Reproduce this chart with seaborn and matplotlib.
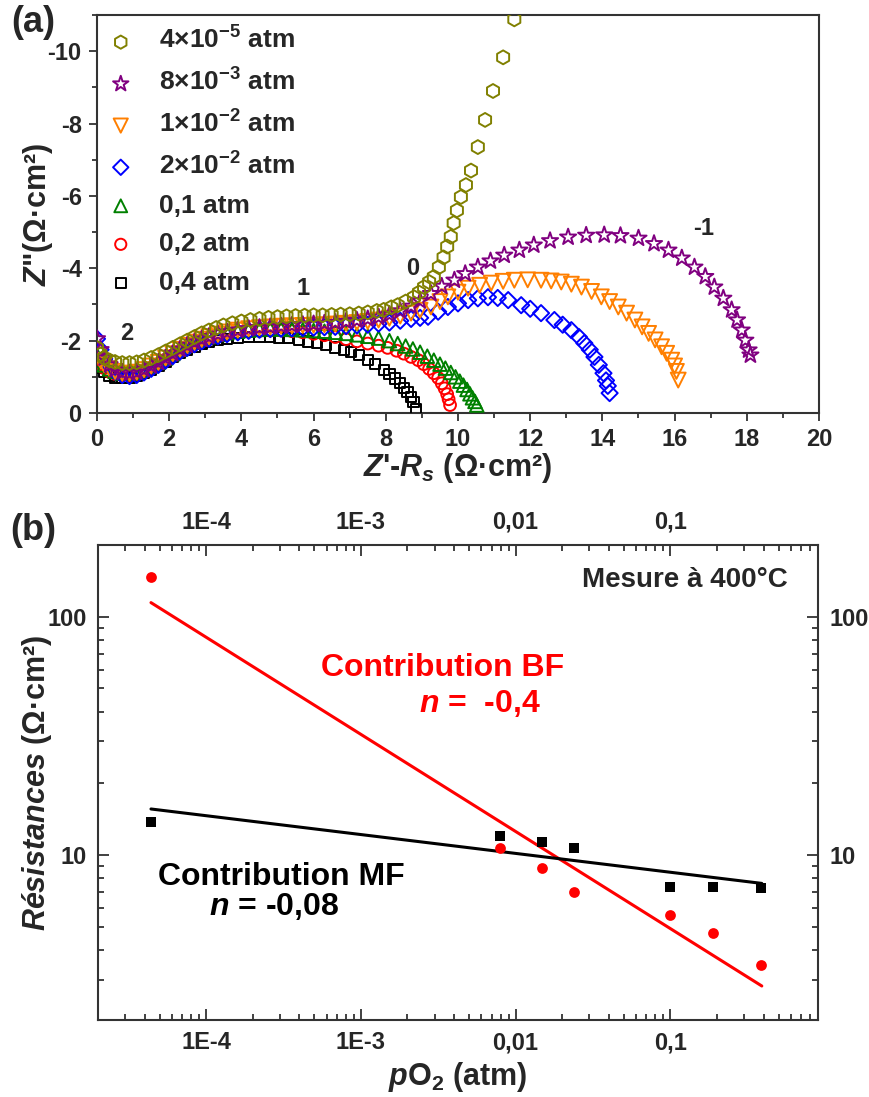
import numpy as np
import pandas as pd
import matplotlib
matplotlib.use("Agg")
import matplotlib.pyplot as plt
import matplotlib.ticker as mticker
import seaborn as sns

# ---------------- data : panel (a) Nyquist plots (Z' - Rs, -Z'') ----------------
labels_a = ["4×10$^{-5}$ atm", "8×10$^{-3}$ atm", "1×10$^{-2}$ atm", "2×10$^{-2}$ atm",
            "0,1 atm", "0,2 atm", "0,4 atm"]
colors_a = ["#808000", "#800080", "#FF7F00", "#0000FF", "#008000", "#FF0000", "#000000"]
markers_a = ["h", "*", "v", "D", "^", "o", "s"]
sizes_a = [100, 150, 115, 68, 95, 72, 55]

x_4e5 = [0, 0.1, 0.2, 0.35, 0.5, 0.7, 0.9, 1.1, 1.3, 1.5, 1.7, 1.9, 2.1, 2.3, 2.5, 2.7, 2.9,
         3.1, 3.3, 3.5, 3.75, 4.0, 4.25, 4.5, 4.75, 5.0, 5.25, 5.5, 5.75, 6.0, 6.25, 6.5, 6.75,
         7.0, 7.25, 7.5, 7.75, 7.94, 8.15, 8.33, 8.55, 8.78, 8.92, 9.06, 9.2, 9.33, 9.47, 9.6,
         9.7, 9.8, 9.88, 9.97, 10.08, 10.22, 10.36, 10.55, 10.75, 10.97, 11.25, 11.56]
y_4e5 = [1.8, 1.62, 1.52, 1.45, 1.41, 1.38, 1.38, 1.4, 1.45, 1.52, 1.6, 1.7, 1.8, 1.9, 2.0,
         2.1, 2.2, 2.28, 2.35, 2.42, 2.48, 2.53, 2.57, 2.6, 2.63, 2.65, 2.67, 2.68, 2.69, 2.7,
         2.7, 2.71, 2.72, 2.73, 2.75, 2.78, 2.82, 2.85, 2.92, 2.98, 3.08, 3.2, 3.33, 3.48, 3.62,
         3.76, 4.03, 4.3, 4.6, 4.87, 5.25, 5.6, 5.97, 6.3, 6.7, 7.35, 8.1, 8.9, 9.83, 10.88]

x_8e3 = [0, 0.1, 0.2, 0.35, 0.5, 0.7, 0.9, 1.1, 1.3, 1.5, 1.7, 1.9, 2.1, 2.3, 2.5, 2.7, 2.9,
         3.1, 3.35, 3.6, 3.9, 4.2, 4.5, 4.8, 5.1, 5.4, 5.7, 6.0, 6.3, 6.6, 6.9, 7.2, 7.5, 7.8,
         8.1, 8.4, 8.7, 8.95, 9.25, 9.55, 9.9, 10.2, 10.55, 10.9, 11.28, 11.7, 12.1, 12.55,
         13.05, 13.55, 14.05, 14.5, 15.0, 15.43, 15.83, 16.2, 16.55, 16.85, 17.1, 17.35, 17.58,
         17.73, 17.86, 17.96, 18.05, 18.1]
y_8e3 = [2.05, 1.75, 1.52, 1.33, 1.2, 1.12, 1.1, 1.13, 1.2, 1.3, 1.4, 1.52, 1.64, 1.76, 1.87,
         1.96, 2.04, 2.11, 2.18, 2.24, 2.29, 2.33, 2.36, 2.38, 2.4, 2.42, 2.44, 2.46, 2.48, 2.5,
         2.53, 2.56, 2.6, 2.65, 2.72, 2.82, 2.95, 3.1, 3.3, 3.5, 3.67, 3.85, 4.03, 4.2, 4.36,
         4.5, 4.64, 4.76, 4.86, 4.91, 4.92, 4.9, 4.83, 4.68, 4.5, 4.28, 4.03, 3.77, 3.48, 3.17,
         2.85, 2.57, 2.29, 2.01, 1.74, 1.6]

x_1e2 = [0, 0.1, 0.2, 0.35, 0.5, 0.7, 0.9, 1.1, 1.3, 1.5, 1.7, 1.9, 2.1, 2.3, 2.5, 2.7, 2.9,
         3.1, 3.35, 3.6, 3.9, 4.2, 4.5, 4.8, 5.1, 5.4, 5.7, 6.0, 6.3, 6.6, 6.9, 7.2, 7.5, 7.8,
         8.1, 8.4, 8.7, 8.95, 9.25, 9.5, 9.72, 10.0, 10.28, 10.6, 10.92, 11.25, 11.56, 11.93,
         12.3, 12.58, 12.86, 13.14, 13.42, 13.7, 13.97, 14.2, 14.44, 14.67, 14.9, 15.1, 15.28,
         15.46, 15.64, 15.78, 15.92, 16.0, 16.05, 16.1]
y_1e2 = [1.6, 1.45, 1.33, 1.22, 1.15, 1.1, 1.1, 1.13, 1.2, 1.3, 1.4, 1.52, 1.64, 1.76, 1.87,
         1.96, 2.04, 2.11, 2.18, 2.24, 2.29, 2.33, 2.36, 2.38, 2.4, 2.41, 2.42, 2.43, 2.44, 2.46,
         2.48, 2.5, 2.53, 2.57, 2.62, 2.68, 2.76, 2.84, 2.93, 3.08, 3.21, 3.34, 3.45, 3.53, 3.59,
         3.64, 3.67, 3.68, 3.67, 3.65, 3.62, 3.56, 3.48, 3.36, 3.21, 3.08, 2.93, 2.76, 2.57,
         2.38, 2.2, 2.02, 1.83, 1.65, 1.46, 1.3, 1.15, 0.91]

x_2e2 = [0, 0.1, 0.2, 0.35, 0.5, 0.7, 0.9, 1.1, 1.3, 1.5, 1.7, 1.9, 2.1, 2.3, 2.5, 2.7, 2.9,
         3.1, 3.35, 3.6, 3.9, 4.2, 4.5, 4.8, 5.1, 5.4, 5.7, 6.0, 6.3, 6.6, 6.9, 7.2, 7.5, 7.8,
         8.1, 8.4, 8.7, 8.95, 9.17, 9.45, 9.72, 10.0, 10.28, 10.55, 10.83, 11.1, 11.39, 11.75,
         12.0, 12.3, 12.67, 12.9, 13.14, 13.35, 13.5, 13.65, 13.78, 13.9, 14.03, 14.1, 14.15,
         14.2]
y_2e2 = [2.05, 1.75, 1.5, 1.3, 1.15, 1.05, 1.02, 1.05, 1.12, 1.22, 1.33, 1.45, 1.57, 1.7, 1.8,
         1.9, 1.98, 2.05, 2.12, 2.18, 2.23, 2.27, 2.3, 2.32, 2.33, 2.34, 2.35, 2.36, 2.37, 2.38,
         2.4, 2.42, 2.44, 2.47, 2.5, 2.55, 2.6, 2.63, 2.66, 2.8, 2.93, 3.03, 3.12, 3.17, 3.2,
         3.18, 3.12, 2.98, 2.88, 2.76, 2.57, 2.44, 2.29, 2.1, 1.93, 1.75, 1.55, 1.33, 1.1, 0.9,
         0.75, 0.55]

x_01 = [0, 0.1, 0.2, 0.35, 0.5, 0.7, 0.9, 1.1, 1.3, 1.5, 1.7, 1.9, 2.1, 2.3, 2.5, 2.7, 2.9,
        3.1, 3.35, 3.6, 3.9, 4.2, 4.5, 4.8, 5.1, 5.4, 5.7, 6.0, 6.3, 6.6, 6.9, 7.2, 7.5, 7.8,
        8.1, 8.33, 8.55, 8.75, 8.95, 9.15, 9.33, 9.5, 9.65, 9.8, 9.93, 10.05, 10.15, 10.25,
        10.33, 10.4, 10.47, 10.52]
y_01 = [1.6, 1.45, 1.33, 1.22, 1.15, 1.1, 1.1, 1.13, 1.2, 1.3, 1.4, 1.52, 1.64, 1.76, 1.87,
        1.96, 2.04, 2.11, 2.17, 2.22, 2.26, 2.29, 2.31, 2.32, 2.32, 2.31, 2.3, 2.28, 2.26, 2.23,
        2.2, 2.16, 2.12, 2.07, 2.0, 1.92, 1.85, 1.77, 1.68, 1.57, 1.46, 1.35, 1.24, 1.12, 1.0,
        0.88, 0.77, 0.65, 0.53, 0.42, 0.32, 0.22]

x_02 = [0, 0.1, 0.2, 0.35, 0.5, 0.7, 0.9, 1.1, 1.3, 1.5, 1.7, 1.9, 2.1, 2.3, 2.5, 2.7, 2.9,
        3.1, 3.35, 3.6, 3.9, 4.2, 4.5, 4.8, 5.1, 5.4, 5.7, 6.0, 6.3, 6.6, 6.9, 7.2, 7.5, 7.8,
        8.05, 8.3, 8.5, 8.7, 8.9, 9.05, 9.2, 9.33, 9.45, 9.55, 9.63, 9.7, 9.74, 9.78]
y_02 = [1.5, 1.35, 1.24, 1.14, 1.08, 1.04, 1.04, 1.08, 1.15, 1.25, 1.36, 1.48, 1.6, 1.72,
        1.83, 1.92, 2.0, 2.07, 2.13, 2.18, 2.22, 2.25, 2.27, 2.28, 2.28, 2.26, 2.23, 2.19, 2.15,
        2.1, 2.04, 1.98, 1.92, 1.86, 1.8, 1.72, 1.64, 1.55, 1.46, 1.35, 1.22, 1.1, 0.97, 0.82,
        0.68, 0.52, 0.38, 0.22]

x_04 = [0, 0.1, 0.2, 0.35, 0.5, 0.7, 0.9, 1.1, 1.3, 1.5, 1.7, 1.9, 2.1, 2.3, 2.5, 2.7, 2.9,
        3.1, 3.35, 3.6, 3.9, 4.2, 4.5, 4.8, 5.05, 5.3, 5.6, 5.85, 6.1, 6.35, 6.6, 6.85, 7.03,
        7.25, 7.5, 7.7, 7.95, 8.1, 8.25, 8.4, 8.5, 8.6, 8.7, 8.77, 8.83]
y_04 = [1.4, 1.25, 1.13, 1.03, 0.98, 0.96, 0.98, 1.03, 1.1, 1.2, 1.3, 1.42, 1.54, 1.65, 1.75,
        1.83, 1.9, 1.96, 2.01, 2.05, 2.08, 2.1, 2.1, 2.1, 2.09, 2.07, 2.03, 1.98, 1.93, 1.87,
        1.81, 1.74, 1.69, 1.6, 1.46, 1.35, 1.19, 1.07, 0.95, 0.83, 0.7, 0.58, 0.44, 0.3, 0.12]

xs_a = [x_4e5, x_8e3, x_1e2, x_2e2, x_01, x_02, x_04]
ys_a = [y_4e5, y_8e3, y_1e2, y_2e2, y_01, y_02, y_04]

peak_labels = ["2", "1", "0", "-1"]
peak_x = [0.83, 5.7, 8.75, 16.8]
peak_y = [2.2, 3.45, 4.0, 5.1]

# ---------------- data : panel (b) resistances vs pO2 ----------------
po2 = [4.4e-5, 7.9e-3, 1.47e-2, 2.37e-2, 0.1, 0.19, 0.385]
r_mf = [13.8, 12.0, 11.3, 10.7, 7.35, 7.35, 7.3]
r_bf = [147, 10.7, 8.8, 7.0, 5.6, 4.7, 3.45]
fit_x = [4.4e-5, 0.39]
fit_mf = [15.6, 7.6]
fit_bf = [114.6, 2.82]
xtick_vals_b = [1e-4, 1e-3, 1e-2, 1e-1]
xtick_labels_b = ["1E-4", "1E-3", "0,01", "0,1"]
ytick_vals_b = [10, 100]
ytick_labels_b = ["10", "100"]

# ---------------- style ----------------
sns.set_style("ticks")
plt.rcParams["font.family"] = ["Liberation Sans", "DejaVu Sans"]
plt.rcParams["font.weight"] = "bold"
plt.rcParams["axes.unicode_minus"] = False
plt.rcParams["mathtext.fontset"] = "custom"
plt.rcParams["mathtext.rm"] = "Liberation Sans:bold"
plt.rcParams["mathtext.bf"] = "Liberation Sans:bold"
plt.rcParams["mathtext.it"] = "Liberation Sans:italic:bold"
plt.rcParams["mathtext.sf"] = "Liberation Sans:bold"

W, H = 870, 1097
fig = plt.figure(figsize=(W / 100, H / 100), dpi=100)
ax1 = fig.add_axes([97 / W, 1 - 413 / H, 722 / W, 398 / H])
ax2 = fig.add_axes([98 / W, 1 - 1020 / H, 720 / W, 475 / H])

spine_col = "#333333"
TICK_FS = 17

# ---------------- panel (a) ----------------
order = [6, 5, 4, 3, 2, 1, 0]
for i in order:
    df = pd.DataFrame({"x": xs_a[i], "y": [-v for v in ys_a[i]]})
    sns.scatterplot(data=df, x="x", y="y", ax=ax1, marker=markers_a[i], s=sizes_a[i],
                    facecolor="none", edgecolor=colors_a[i], linewidth=1.4,
                    label=labels_a[i], zorder=3 + (6 - i))

ax1.set_xlim(0, 20)
ax1.set_ylim(0, -11)
ax1.set_xticks(np.arange(0, 21, 2))
ax1.set_yticks([0, -2, -4, -6, -8, -10])
ax1.xaxis.set_minor_locator(mticker.MultipleLocator(1))
ax1.yaxis.set_minor_locator(mticker.MultipleLocator(1))
ax1.tick_params(which="both", direction="out", top=False, right=False,
                labelsize=TICK_FS, color=spine_col, width=1.3, pad=5)
ax1.tick_params(which="major", length=6)
ax1.tick_params(which="minor", length=3.5)
for lab in ax1.get_xticklabels() + ax1.get_yticklabels():
    lab.set_fontweight("bold")
for sp in ax1.spines.values():
    sp.set_visible(True)
    sp.set_color(spine_col)
    sp.set_linewidth(1.5)
ax1.set_xlabel("$Z$'-$R_s$ (Ω·cm²)", fontsize=22, fontweight="bold", labelpad=0)
ax1.set_ylabel('$Z$"(Ω·cm²)', fontsize=22, fontweight="bold", labelpad=-5)

handles, labs = ax1.get_legend_handles_labels()
handles, labs = handles[::-1], labs[::-1]
ax1.legend(handles, labs, loc="upper left", bbox_to_anchor=(0.0, 1.0), frameon=False,
           prop={"size": 19, "weight": "bold"}, handlelength=0.9, handletextpad=1.0,
           labelspacing=0.55, borderaxespad=0.2, borderpad=0.25, markerscale=0.95)

for t, px, py in zip(peak_labels, peak_x, peak_y):
    ax1.text(px, -py, t, fontsize=17, fontweight="bold", ha="center", va="center")

# ---------------- panel (b) ----------------
dfb = pd.DataFrame({"po2": po2, "mf": r_mf, "bf": r_bf})
dff = pd.DataFrame({"x": fit_x, "mf": fit_mf, "bf": fit_bf})
sns.lineplot(data=dff, x="x", y="bf", ax=ax2, color="#FF0000", linewidth=2.2)
sns.lineplot(data=dff, x="x", y="mf", ax=ax2, color="#000000", linewidth=2.2)
sns.scatterplot(data=dfb, x="po2", y="bf", ax=ax2, marker="o", s=60, color="#FF0000",
                edgecolor="#FF0000", linewidth=0, zorder=4)
sns.scatterplot(data=dfb, x="po2", y="mf", ax=ax2, marker="s", s=55, color="#000000",
                edgecolor="#000000", linewidth=0, zorder=4)
ax2.set_xscale("log")
ax2.set_yscale("log")
ax2.set_xlim(2.0e-5, 0.9)
ax2.set_ylim(2.03, 200)
ax2.xaxis.set_major_locator(mticker.FixedLocator(xtick_vals_b))
ax2.xaxis.set_major_formatter(mticker.FixedFormatter(xtick_labels_b))
ax2.xaxis.set_minor_locator(mticker.LogLocator(base=10, subs=np.arange(2, 10), numticks=20))
ax2.xaxis.set_minor_formatter(mticker.NullFormatter())
ax2.yaxis.set_major_locator(mticker.FixedLocator(ytick_vals_b))
ax2.yaxis.set_major_formatter(mticker.FixedFormatter(ytick_labels_b))
ax2.yaxis.set_minor_locator(mticker.LogLocator(base=10, subs=np.arange(2, 10), numticks=20))
ax2.yaxis.set_minor_formatter(mticker.NullFormatter())
ax2.tick_params(which="both", direction="in", top=True, right=True, labeltop=True,
                labelright=True, labelsize=TICK_FS, color=spine_col, width=1.3, pad=8)
ax2.tick_params(which="major", length=8)
ax2.tick_params(which="minor", length=4)
for lab in ax2.xaxis.get_ticklabels(which="major") + ax2.yaxis.get_ticklabels(which="major"):
    lab.set_fontweight("bold")
for sp in ax2.spines.values():
    sp.set_visible(True)
    sp.set_color(spine_col)
    sp.set_linewidth(1.5)
ax2.set_xlabel("$p$O$_2$ (atm)", fontsize=22, fontweight="bold", labelpad=4)
ax2.set_ylabel("$Résistances$ (Ω·cm²)", fontsize=22, fontweight="bold", labelpad=-5)

ax2.text(0.958, 0.926, "Mesure à 400°C", transform=ax2.transAxes, fontsize=20,
         fontweight="bold", ha="right", va="center")
ax2.text(0.479, 0.741, "Contribution BF", transform=ax2.transAxes, fontsize=23,
         fontweight="bold", color="#FF0000", ha="center", va="center")
ax2.text(0.531, 0.667, "$n$ =  -0,4", transform=ax2.transAxes, fontsize=23,
         fontweight="bold", color="#FF0000", ha="center", va="center")
ax2.text(0.254, 0.301, "Contribution MF", transform=ax2.transAxes, fontsize=23,
         fontweight="bold", color="#000000", ha="center", va="center")
ax2.text(0.244, 0.238, "$n$ = -0,08", transform=ax2.transAxes, fontsize=23,
         fontweight="bold", color="#000000", ha="center", va="center")

fig.text(33 / W, 1 - 22 / H, "(a)", fontsize=26, fontweight="bold", ha="center", va="center")
fig.text(33 / W, 1 - 530 / H, "(b)", fontsize=26, fontweight="bold", ha="center", va="center")

leg = ax2.get_legend()
if leg is not None:
    leg.remove()

fig.savefig("out.png", dpi=100, facecolor="white")
